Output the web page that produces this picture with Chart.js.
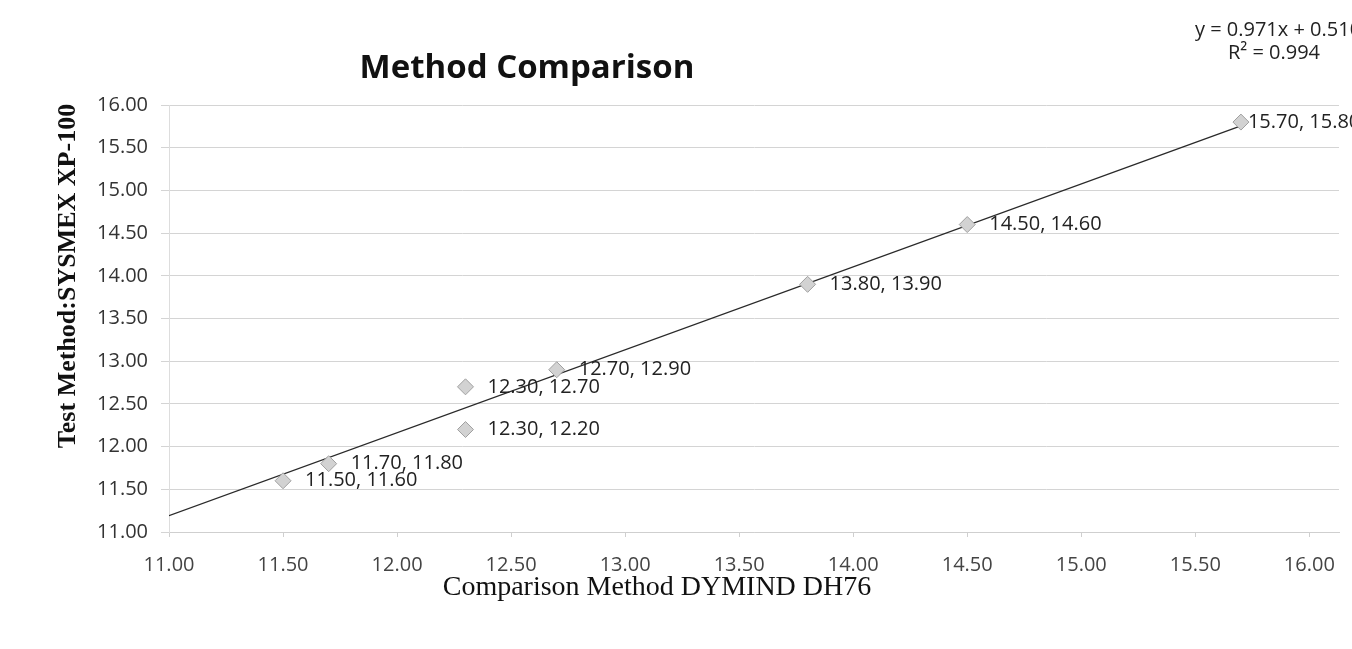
<!DOCTYPE html>
<html>
<head>
  <meta charset="utf-8">
  <title>Method Comparison</title>
  <script src="https://cdn.jsdelivr.net/npm/chart.js@4.4.1/dist/chart.umd.min.js"></script>
  <style>
    body { margin: 0; background: #fff; }
    #wrap { width: 1352px; height: 649px; position: relative; }
  </style>
</head>
<body>
  <div id="wrap"><canvas id="myChart"></canvas></div>
  <script type="text/javascript">
    // comparison method (x) vs test method (y)
    var compMethod = [11.50, 11.70, 12.30, 12.30, 12.70, 13.80, 14.50, 15.70];
    var testMethod = [11.60, 11.80, 12.70, 12.20, 12.90, 13.90, 14.60, 15.80];

    // trendline as printed on the chart
    var slope = 0.971;
    var intercept = 0.510;
    var rSquared = 0.994;
    var trendFrom = 11.00;
    var trendTo = 15.70;

    var TICK_FONT = { family: "'Open Sans', sans-serif", size: 20 };

    var points = compMethod.map(function(x, i) { return { x: x, y: testMethod[i] }; });
    var trend = [trendFrom, trendTo].map(function(x) { return { x: x, y: slope * x + intercept }; });

    // labels next to points, titles and the equation
    var textPlugin = {
      id: 'texts',
      afterDatasetsDraw: function(chart) {
        var ctx = chart.ctx;
        var meta = chart.getDatasetMeta(0);
        ctx.save();
        ctx.font = "20px 'Open Sans', sans-serif";
        ctx.fillStyle = '#222';
        ctx.textBaseline = 'middle';
        ctx.textAlign = 'left';
        meta.data.forEach(function(el, i) {
          var txt = compMethod[i].toFixed(2) + ', ' + testMethod[i].toFixed(2);
          var w = ctx.measureText(txt).width;
          var tx = el.x + 22;
          if (tx + w > chart.width) tx = el.x + 7;
          ctx.fillText(txt, tx, el.y);
        });
        ctx.restore();
      },
      afterDraw: function(chart) {
        var ctx = chart.ctx;
        ctx.save();
        ctx.fillStyle = '#111';
        ctx.textAlign = 'center';
        ctx.textBaseline = 'middle';
        ctx.font = "bold 33px 'Open Sans', sans-serif";
        ctx.fillText('Method Comparison', 527, 69);

        ctx.font = "28px 'Liberation Serif', serif";
        ctx.fillText('Comparison Method DYMIND DH76', 657, 588);

        ctx.save();
        ctx.translate(68, 276);
        ctx.rotate(-Math.PI / 2);
        ctx.font = "bold 26px 'Liberation Serif', serif";
        ctx.fillText('Test Method:SYSMEX XP-100', 0, 0);
        ctx.restore();

        ctx.fillStyle = '#222';
        ctx.font = "20px 'Open Sans', sans-serif";
        ctx.fillText('y = ' + slope.toFixed(3) + 'x + ' + intercept.toFixed(3), 1278, 30);
        ctx.fillText('R\u00b2 = ' + rSquared.toFixed(3), 1274, 53);
        ctx.restore();
      }
    };

    var ctx = document.getElementById("myChart");

    var myChart = new Chart(ctx, {
      type: 'scatter',
      data: {
        datasets: [{
          label: 'Points',
          data: points,
          pointStyle: 'rectRot',
          pointRadius: 8,
          pointHoverRadius: 8,
          backgroundColor: '#d2d2d2',
          borderColor: '#a0a0a0',
          borderWidth: 1
        }, {
          type: 'line',
          label: 'Trend',
          data: trend,
          borderColor: '#2a2a2a',
          borderWidth: 1.3,
          pointRadius: 0,
          fill: false
        }]
      },
      options: {
        responsive: true,
        maintainAspectRatio: false,
        animation: false,
        layout: { padding: { top: 105, right: 13, left: 0, bottom: 0 } },
        plugins: {
          legend: { display: false },
          title: { display: false },
          tooltip: { enabled: false }
        },
        scales: {
          x: {
            type: 'linear',
            min: 11,
            max: 16.13,
            afterFit: function(scale) { scale.height = 117; },
            ticks: {
              stepSize: 0.5,
              includeBounds: false,
              autoSkip: false,
              maxRotation: 0,
              padding: 16,
              color: '#444',
              font: TICK_FONT,
              callback: function(v) { return Number(v).toFixed(2); }
            },
            grid: { drawOnChartArea: false, drawTicks: true, tickLength: 5, color: '#cfcfcf' },
            border: { color: '#cfcfcf' }
          },
          y: {
            min: 11,
            max: 16,
            afterFit: function(scale) { scale.width = 169; },
            ticks: {
              stepSize: 0.5,
              padding: 13,
              color: '#333',
              font: TICK_FONT,
              callback: function(v) { return Number(v).toFixed(2); }
            },
            grid: { color: '#d4d4d4', tickLength: 8 },
            border: { color: '#dddddd' }
          }
        }
      },
      plugins: [textPlugin]
    });
  </script>
</body>
</html>
